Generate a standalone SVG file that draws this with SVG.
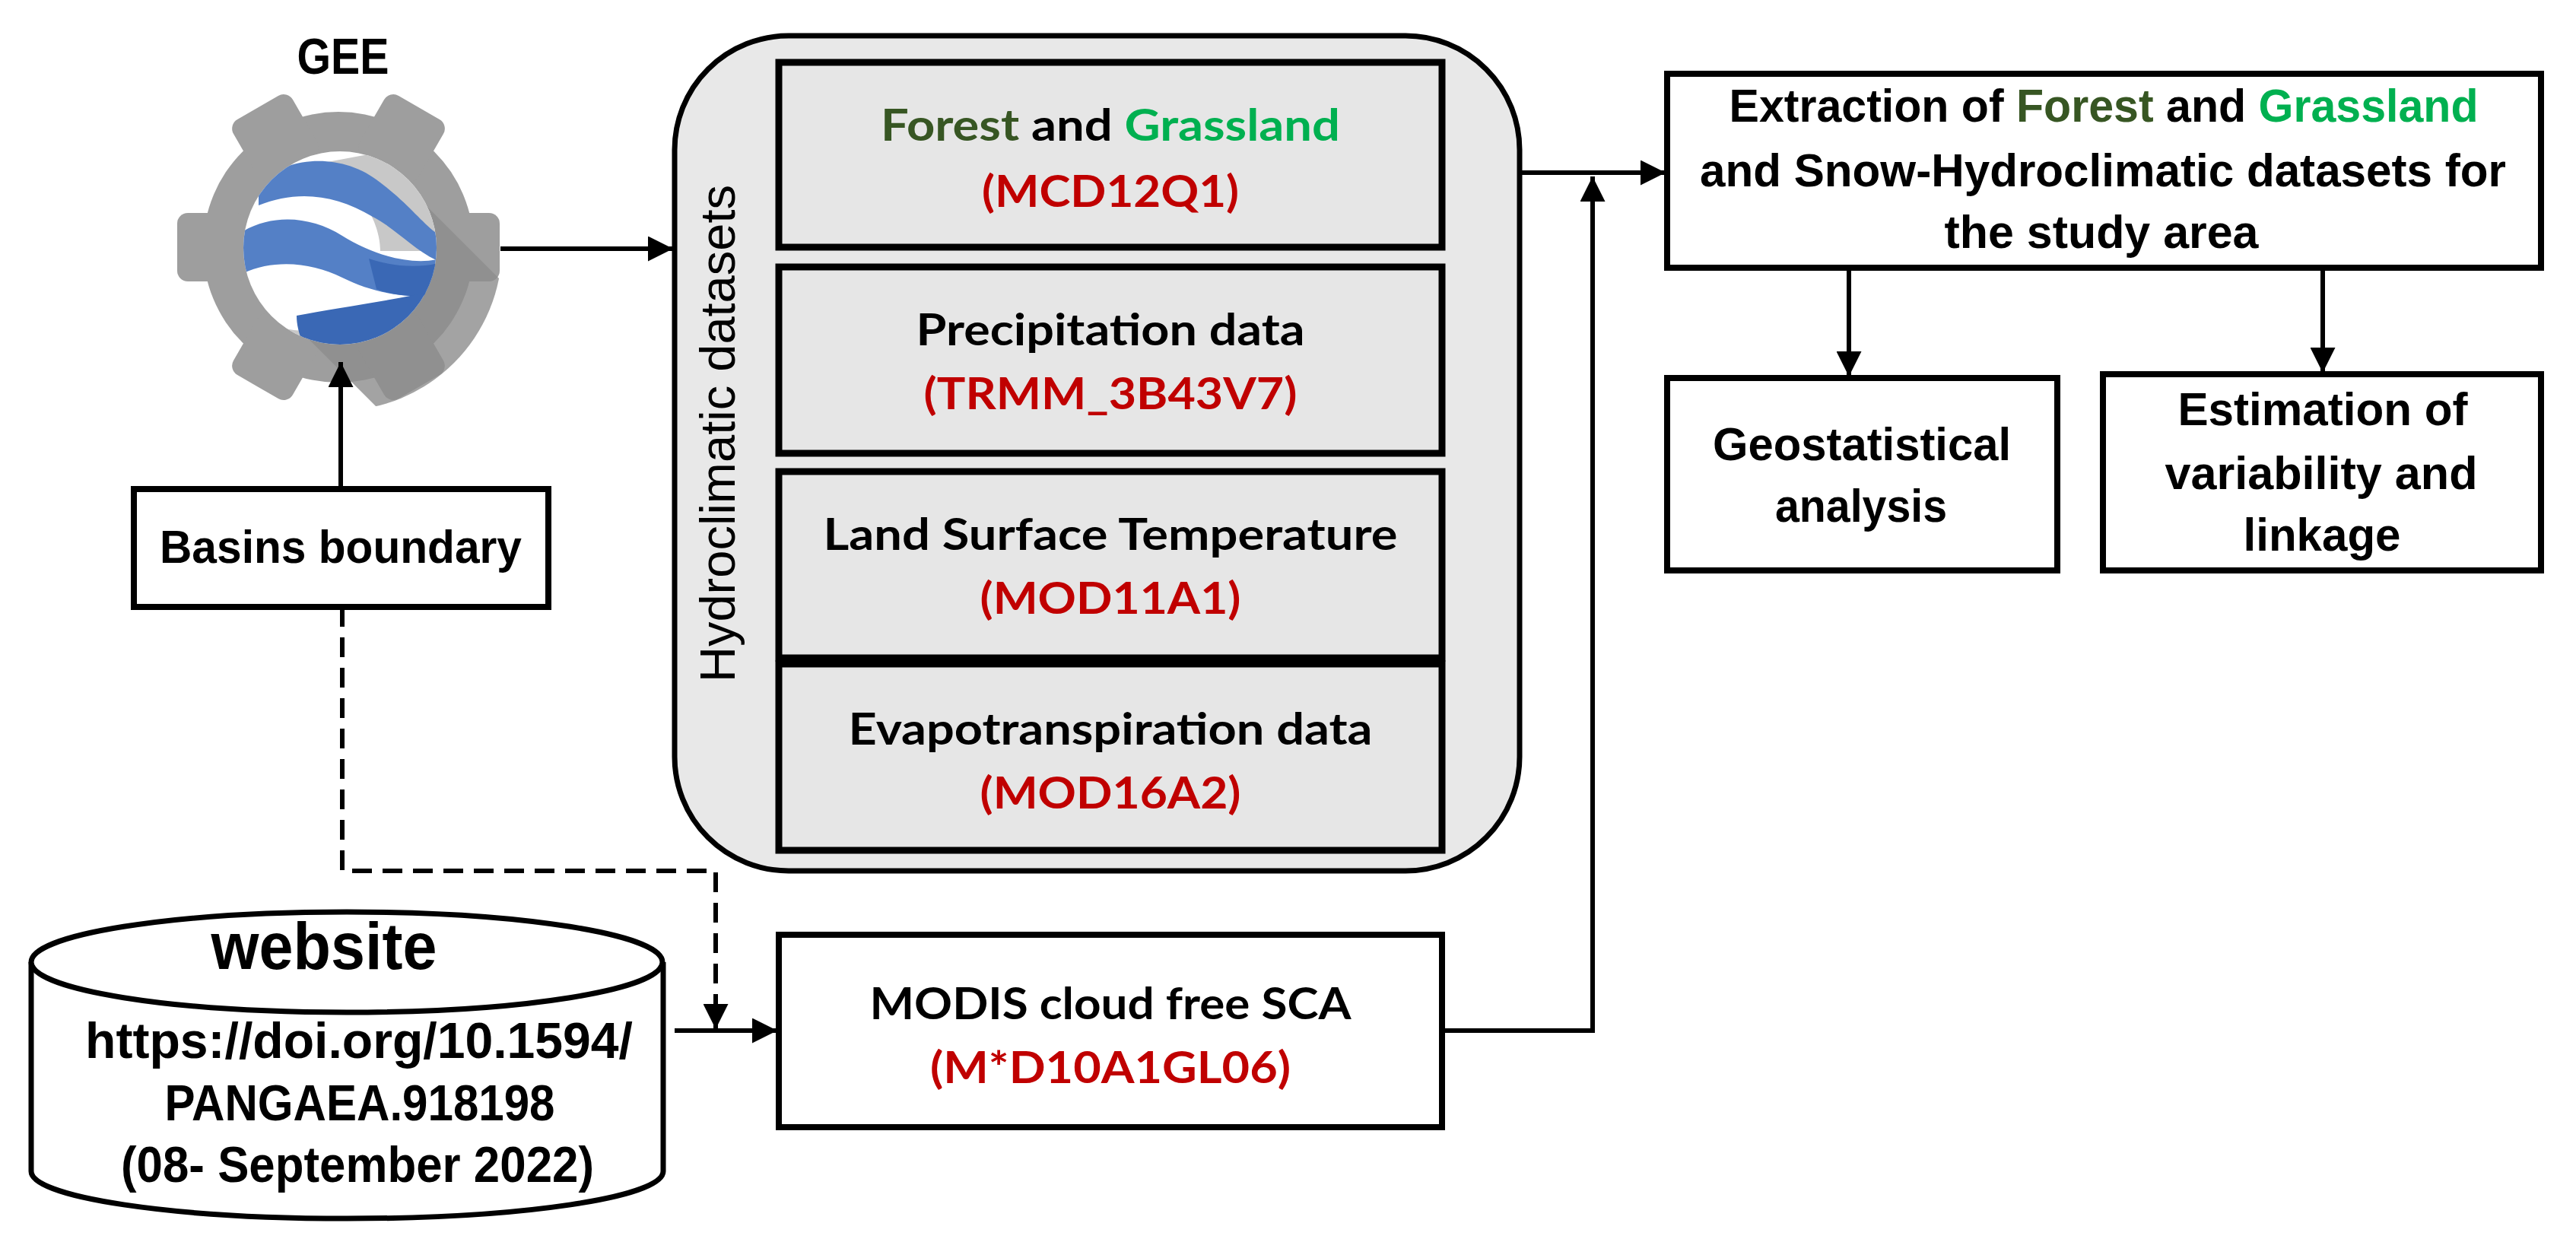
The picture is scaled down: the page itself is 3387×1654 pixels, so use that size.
<svg xmlns="http://www.w3.org/2000/svg" width="3387" height="1654" viewBox="0 0 3387 1654">
<defs>
<style>
.t{font-family:"Liberation Sans",Arial,sans-serif;font-weight:bold;fill:#000;text-anchor:middle}
.g{font-family:Lato,"Liberation Sans",sans-serif;font-weight:bold;fill:#000;text-anchor:middle}
.red{fill:#c00000}.fg{fill:#375623}.gl{fill:#00b050}
.box{fill:#fff;stroke:#000;stroke-width:8}
.ibox{fill:#e6e6e6;stroke:#000;stroke-width:9}
.ln{fill:none;stroke:#000;stroke-width:6}
</style>
<marker id="ah" viewBox="0 0 10 10" refX="10" refY="5" markerWidth="5.5" markerHeight="5.5" markerUnits="strokeWidth" orient="auto"><path d="M0,0 L10,5 L0,10 z" fill="#000"/></marker>
<clipPath id="glb"><circle cx="447" cy="326" r="127"/></clipPath>
<clipPath id="gearclip"><circle cx="445" cy="325" r="215"/></clipPath>
</defs>
<rect width="3387" height="1654" fill="#fff"/>

<g id="gee">
<text class="t" x="451" y="97" font-size="66" textLength="121" lengthAdjust="spacingAndGlyphs">GEE</text>
<g fill="#9e9e9e">
<circle cx="445" cy="325" r="178"/>
<g transform="translate(445,325)">
<rect x="120" y="-45" width="92" height="90" rx="14"/>
<rect x="120" y="-45" width="92" height="90" rx="14" transform="rotate(60)"/>
<rect x="120" y="-45" width="92" height="90" rx="14" transform="rotate(120)"/>
<rect x="120" y="-45" width="92" height="90" rx="14" transform="rotate(180)"/>
<rect x="120" y="-45" width="92" height="90" rx="14" transform="rotate(240)"/>
<rect x="120" y="-45" width="92" height="90" rx="14" transform="rotate(300)"/>
</g>
</g>
<path d="M530,240 L700,410 L700,600 L560,600 L360,400 Z" fill="#8c8c8c" clip-path="url(#gearclip)" opacity="0.8"/>
<circle cx="447" cy="326" r="127" fill="#fff"/>
<g clip-path="url(#glb)">
<path d="M500,200 C560,230 590,290 580,330 L500,330 C500,290 470,240 420,215 Z" fill="#c8c8c8"/>
<path d="M600,200 L600,460 L520,460 C560,420 580,360 575,300 C570,250 540,220 520,205 Z" fill="#c8c8c8"/>
<path d="M320,410 C380,450 460,440 580,400 L580,460 L320,460 Z" fill="#c8c8c8"/>
<path d="M340,240 C380,205 450,200 500,240 C540,270 560,300 580,310 L580,345 C545,330 520,300 490,285 C440,255 390,250 340,270 Z" fill="#5480c6"/>
<path d="M318,305 C360,280 410,285 450,310 C490,335 540,350 580,340 L580,385 C540,395 490,385 450,365 C410,345 360,340 318,360 Z" fill="#5480c6"/>
<path d="M485,340 C520,352 555,352 580,345 L580,385 C550,392 520,390 495,380 Z" fill="#3a68b5"/>
<path d="M390,415 C440,405 520,395 580,380 L580,470 L410,470 C395,450 390,430 390,415 Z" fill="#3a68b5"/>
</g>
</g>

<g id="basins">
<rect class="box" x="176" y="643" width="545" height="155"/>
<text class="t" x="448" y="740" font-size="62" textLength="476" lengthAdjust="spacingAndGlyphs">Basins boundary</text>
</g>

<g id="website">
<path d="M41,1265 L41,1540 A415,62 0 0 0 872,1540 L872,1265" fill="#fff" stroke="#000" stroke-width="7"/>
<ellipse cx="456" cy="1265" rx="415" ry="66" fill="#fff" stroke="#000" stroke-width="7"/>
<text class="t" x="426" y="1274" font-size="88" textLength="297" lengthAdjust="spacingAndGlyphs">website</text>
<text class="t" x="472" y="1391" font-size="66" textLength="720" lengthAdjust="spacingAndGlyphs">https://doi.org/10.1594/</text>
<text class="t" x="473" y="1473" font-size="66" textLength="513" lengthAdjust="spacingAndGlyphs">PANGAEA.918198</text>
<text class="t" x="470" y="1554" font-size="66" textLength="622" lengthAdjust="spacingAndGlyphs">(08- September 2022)</text>
</g>

<g id="panel">
<rect x="887" y="47" width="1111" height="1098" rx="150" ry="150" fill="#e8e8e8" stroke="#000" stroke-width="7"/>
<text class="t" transform="translate(966,570) rotate(-90)" x="0" y="0" font-size="64" textLength="654" lengthAdjust="spacingAndGlyphs" font-weight="normal" style="font-weight:normal">Hydroclimatic datasets</text>
</g>

<g id="lulc">
<rect class="ibox" x="1024" y="82" width="872" height="243"/>
<text class="g" x="1460" y="185" font-size="58" textLength="604" lengthAdjust="spacingAndGlyphs"><tspan class="fg">Forest</tspan> and <tspan class="gl">Grassland</tspan></text>
<text class="g red" x="1460" y="272" font-size="58" textLength="338" lengthAdjust="spacingAndGlyphs">(MCD12Q1)</text>
</g>
<g id="precip">
<rect class="ibox" x="1024" y="351" width="872" height="245"/>
<text class="g" x="1460" y="454" font-size="58" textLength="511" lengthAdjust="spacingAndGlyphs">Precipitation data</text>
<text class="g red" x="1460" y="538" font-size="58" textLength="491" lengthAdjust="spacingAndGlyphs">(TRMM_3B43V7)</text>
</g>
<g id="lst">
<rect class="ibox" x="1024" y="620" width="872" height="245"/>
<text class="g" x="1460" y="723" font-size="58" textLength="755" lengthAdjust="spacingAndGlyphs">Land Surface Temperature</text>
<text class="g red" x="1460" y="807" font-size="58" textLength="343" lengthAdjust="spacingAndGlyphs">(MOD11A1)</text>
</g>
<g id="et">
<rect class="ibox" x="1024" y="873" width="872" height="245"/>
<text class="g" x="1460" y="979" font-size="58" textLength="689" lengthAdjust="spacingAndGlyphs">Evapotranspiration data</text>
<text class="g red" x="1460" y="1063" font-size="58" textLength="343" lengthAdjust="spacingAndGlyphs">(MOD16A2)</text>
</g>

<g id="modis">
<rect class="box" x="1024" y="1229" width="872" height="253"/>
<text class="g" x="1460" y="1340" font-size="58" textLength="633" lengthAdjust="spacingAndGlyphs">MODIS cloud free SCA</text>
<text class="g red" x="1460" y="1424" font-size="58" textLength="474" lengthAdjust="spacingAndGlyphs">(M*D10A1GL06)</text>
</g>

<g id="extraction">
<rect class="box" x="2192" y="97" width="1149" height="255"/>
<text class="t" x="2766" y="160" font-size="62" textLength="985" lengthAdjust="spacingAndGlyphs">Extraction of <tspan class="fg">Forest</tspan> and <tspan class="gl">Grassland</tspan></text>
<text class="t" x="2765" y="245" font-size="62" textLength="1060" lengthAdjust="spacingAndGlyphs">and Snow-Hydroclimatic datasets for</text>
<text class="t" x="2763" y="326" font-size="62" textLength="413" lengthAdjust="spacingAndGlyphs">the study area</text>
</g>

<g id="geostat">
<rect class="box" x="2192" y="497" width="513" height="253"/>
<text class="t" x="2448" y="605" font-size="62" textLength="392" lengthAdjust="spacingAndGlyphs">Geostatistical</text>
<text class="t" x="2447" y="686" font-size="62" textLength="226" lengthAdjust="spacingAndGlyphs">analysis</text>
</g>

<g id="estimation">
<rect class="box" x="2765" y="492" width="576" height="258"/>
<text class="t" x="3054" y="559" font-size="62" textLength="381" lengthAdjust="spacingAndGlyphs">Estimation of</text>
<text class="t" x="3052" y="643" font-size="62" textLength="411" lengthAdjust="spacingAndGlyphs">variability and</text>
<text class="t" x="3053" y="724" font-size="62" textLength="207" lengthAdjust="spacingAndGlyphs">linkage</text>
</g>

<g id="connectors">
<line class="ln" x1="658" y1="327" x2="885" y2="327" marker-end="url(#ah)"/>
<line class="ln" x1="448" y1="643" x2="448" y2="476" marker-end="url(#ah)"/>
<polyline class="ln" points="450,798 450,1145 941,1145 941,1353" stroke-dasharray="26,14" marker-end="url(#ah)"/>
<line class="ln" x1="887" y1="1355" x2="1022" y2="1355" marker-end="url(#ah)"/>
<polyline class="ln" points="1896,1355 2094,1355 2094,232" marker-end="url(#ah)"/>
<line class="ln" x1="1998" y1="227" x2="2190" y2="227" marker-end="url(#ah)"/>
<line class="ln" x1="2431" y1="352" x2="2431" y2="495" marker-end="url(#ah)"/>
<line class="ln" x1="3054" y1="352" x2="3054" y2="490" marker-end="url(#ah)"/>
</g>
</svg>
